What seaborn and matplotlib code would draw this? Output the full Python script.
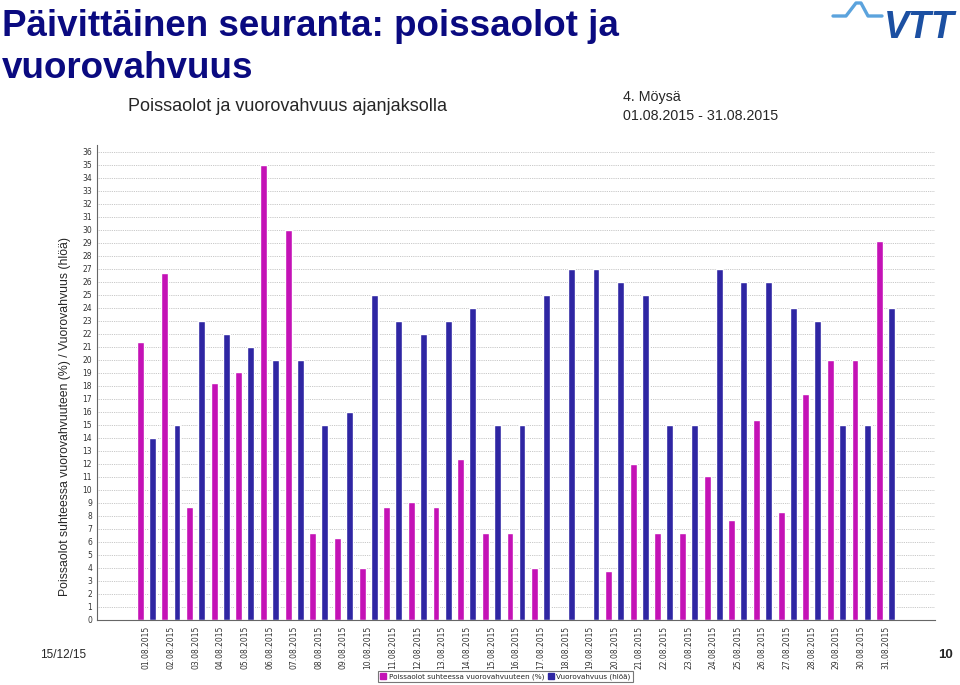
import numpy as np
import pandas as pd
import matplotlib.pyplot as plt
import seaborn as sns

# data
dates = ['%02d.08.2015' % d for d in range(1, 32)]
poissaolot = [21.4, 26.7, 8.7, 18.2, 19.1, 35.0, 30.0, 6.7, 6.3, 4.0,
              8.7, 9.1, 8.7, 12.4, 6.7, 6.7, 4.0, 0.0, 0.0, 3.8,
              12.0, 6.7, 6.7, 11.1, 7.7, 15.4, 8.3, 17.4, 20.0, 20.0, 29.1]
vuorovahvuus = [14, 15, 23, 22, 21, 20, 20, 15, 16, 25,
                23, 22, 23, 24, 15, 15, 25, 27, 27, 26,
                25, 15, 15, 27, 26, 26, 24, 23, 15, 15, 24]
series_names = ['Poissaolot suhteessa vuorovahvuuteen (%)', 'Vuorovahvuus (hlöä)']
colors = ['#C412B6', '#2F26A3']

df = pd.DataFrame({
    'date': dates * 2,
    'series': [series_names[0]] * len(dates) + [series_names[1]] * len(dates),
    'value': poissaolot + vuorovahvuus,
})

sns.set_style('white')
plt.rcParams['font.family'] = ['DejaVu Sans']

fig = plt.figure(figsize=(9.6, 6.85), dpi=100)
ax = fig.add_axes([0.101, 0.095, 0.873, 0.693])

sns.barplot(data=df, x='date', y='value', hue='series', hue_order=series_names,
            palette=colors, width=0.98, gap=0.43, saturation=1, ax=ax, legend=False)

ax.set_xlim(-2.0, 32.0)
ax.set_ylim(0, 36.5)
ax.set_yticks(range(0, 37))
ax.tick_params(axis='y', labelsize=5.5, colors='#333333', length=3, width=0.6,
               direction='inout', pad=2)
ax.tick_params(axis='x', labelsize=5.5, colors='#333333', rotation=90, length=2, pad=2)
ax.set_xlabel('')
ax.set_ylabel('')
ax.yaxis.grid(True, color='#b5b5b5', linestyle=(0, (1, 1.2)), linewidth=0.6)
ax.set_axisbelow(True)
for s in ['top', 'right']:
    ax.spines[s].set_visible(False)
ax.spines['left'].set_color('#666666')
ax.spines['bottom'].set_color('#666666')

fig.text(0.068, 1 - 416 / 685, 'Poissaolot suhteessa vuorovahvuuteen (%) / Vuorovahvuus (hlöä)',
         rotation=90, ha='center', va='center', fontsize=8.8, family=['Liberation Sans'])

# headings
title_font = ['Liberation Sans']
fig.text(0.002, 1 - 36 / 685, 'Päivittäinen seuranta: poissaolot ja', fontsize=26.5,
         fontweight='bold', color='#0A0A80', family=title_font, va='baseline')
fig.text(0.002, 1 - 78 / 685, 'vuorovahvuus', fontsize=26.5,
         fontweight='bold', color='#0A0A80', family=title_font, va='baseline')
fig.text(128 / 960, 1 - 111 / 685, 'Poissaolot ja vuorovahvuus ajanjaksolla', fontsize=13,
         family=['Liberation Sans'], va='baseline')
fig.text(623 / 960, 1 - 101 / 685, '4. Möysä', fontsize=10.3, family=['Liberation Sans'], va='baseline')
fig.text(623 / 960, 1 - 120 / 685, '01.08.2015 - 31.08.2015', fontsize=10.3,
         family=['Liberation Sans'], va='baseline')

# logo
fig.lines.append(plt.Line2D(np.array([833, 846, 856, 861, 868, 882]) / 960,
                            1 - np.array([16, 16, 3, 3, 16, 16]) / 685,
                            transform=fig.transFigure, color='#5BA3DD', linewidth=2.4))
fig.text(955 / 960, 1 - 38 / 685, 'VTT', fontsize=27, fontweight='bold', fontstyle='italic',
         color='#1C50A2', family=['Liberation Sans'], ha='right', va='baseline')

# footer
fig.text(40 / 960, 1 - 658 / 685, '15/12/15', fontsize=8.5, family=['Liberation Sans'], va='baseline')
fig.text(953 / 960, 1 - 658 / 685, '10', fontsize=9.5, fontweight='bold',
         family=['Liberation Sans'], ha='right', va='baseline')

handles = [plt.Rectangle((0, 0), 1, 1, color=c) for c in colors]
leg = fig.legend(handles, series_names, loc='upper left', bbox_to_anchor=(378 / 960, 1 - 671 / 685),
                 ncol=2, fontsize=5.2, frameon=True, fancybox=False, handlelength=0.8,
                 handleheight=0.8, handletextpad=0.4, columnspacing=0.5, borderpad=0.3,
                 borderaxespad=0)
leg.get_frame().set_edgecolor('#555555')
leg.get_frame().set_linewidth(0.8)

fig.savefig('out.png', dpi=100)
